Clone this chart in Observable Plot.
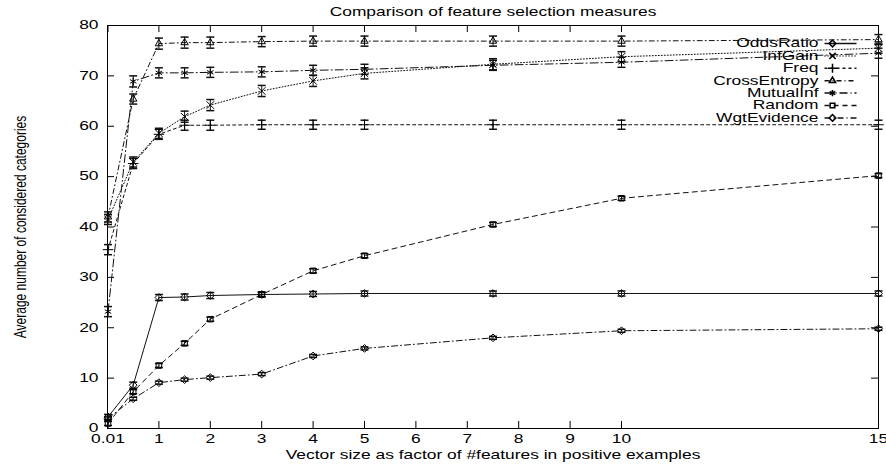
<!DOCTYPE html>
<html><head><meta charset="utf-8">
<script src="https://cdn.jsdelivr.net/npm/d3@7"></script>
<script src="https://cdn.jsdelivr.net/npm/@observablehq/plot@0.6"></script>
<style>body{margin:0;background:#fff}</style>
</head><body><div id="chart"></div>
<script>
const titleText = "Comparison of feature selection measures";
const xTitle = "Vector size as factor of #features in positive examples";
const yTitle = "Average number of considered categories";

const xValues = [0.01, 0.5, 1, 1.5, 2, 3, 4, 5, 7.5, 10, 15];
const xTickValues = [0.01, 1, 2, 3, 4, 5, 6, 7, 8, 9, 10, 15];
const xTickLabels = ["0.01", "1", "2", "3", "4", "5", "6", "7", "8", "9", "10", "15"];
const yTickValues = [0, 10, 20, 30, 40, 50, 60, 70, 80];

const seriesNames = ["OddsRatio", "InfGain", "Freq", "CrossEntropy", "MutualInf", "Random", "WgtEvidence"];

const oddsRatio    = [2.3, 8.6, 26.0, 26.1, 26.4, 26.6, 26.7, 26.8, 26.8, 26.8, 26.8];
const infGain      = [41.5, 52.9, 58.6, 61.9, 64.2, 67.0, 69.0, 70.5, 72.3, 73.8, 75.5];
const freq         = [35.5, 52.6, 58.4, 60.2, 60.2, 60.3, 60.3, 60.3, 60.3, 60.3, 60.3];
const crossEntropy = [42.0, 65.4, 76.4, 76.6, 76.6, 76.8, 76.9, 76.9, 76.9, 76.9, 77.2];
const mutualInf    = [23.2, 68.9, 70.6, 70.6, 70.7, 70.8, 71.1, 71.3, 72.1, 72.7, 74.5];
const random       = [1.0, 7.3, 12.5, 16.9, 21.7, 26.6, 31.3, 34.3, 40.5, 45.7, 50.2];
const wgtEvidence  = [2.0, 5.9, 9.1, 9.7, 10.1, 10.8, 14.4, 15.9, 18.0, 19.4, 19.8];

const oddsRatioErr    = [0.5, 0.6, 0.6, 0.6, 0.6, 0.5, 0.5, 0.5, 0.5, 0.5, 0.5];
const infGainErr      = [1.0, 1.0, 1.0, 1.1, 1.1, 1.1, 1.1, 1.1, 1.1, 1.0, 1.0];
const freqErr         = [1.0, 1.0, 1.0, 1.0, 1.0, 0.9, 0.9, 0.9, 0.9, 0.9, 0.9];
const crossEntropyErr = [1.0, 1.0, 1.1, 1.1, 1.1, 1.0, 1.0, 1.0, 1.0, 1.0, 1.0];
const mutualInfErr    = [1.0, 1.1, 1.0, 1.0, 1.0, 1.0, 1.0, 1.0, 1.0, 1.0, 1.0];
const randomErr       = [0.4, 0.4, 0.4, 0.4, 0.4, 0.4, 0.4, 0.4, 0.4, 0.4, 0.4];
const wgtEvidenceErr  = [0.3, 0.3, 0.3, 0.3, 0.3, 0.3, 0.3, 0.3, 0.3, 0.3, 0.3];

const seriesValues = [oddsRatio, infGain, freq, crossEntropy, mutualInf, random, wgtEvidence];
const seriesErrors = [oddsRatioErr, infGainErr, freqErr, crossEntropyErr, mutualInfErr, randomErr, wgtEvidenceErr];
const seriesDash = [null, "1,2", "3,3", "5,3,1,3", "8,3,1,3", "5,4", "6,3,1,3"];
const seriesSymbol = ["diamond2", "times", "plus", "triangle2", "asterisk", "square2", "diamond2"];

const rows = seriesNames.flatMap((name, si) => xValues.map((x, i) => ({
  series: name, x, y: seriesValues[si][i],
  lo: seriesValues[si][i] - seriesErrors[si][i],
  hi: seriesValues[si][i] + seriesErrors[si][i]
})));

const W = 886, H = 465, mL = 107, mR = 8, mT = 25, mB = 37;
const innerW = W - mL - mR, innerH = H - mT - mB;
const tickLen = 7;
const SX = 1.45; // horizontal stretch of the reference's lettering

const capSymbol = {draw(ctx) { ctx.moveTo(-4, 0); ctx.lineTo(4, 0); }};
const sampleSymbol = {draw(ctx) { ctx.moveTo(-8, 0); ctx.lineTo(24, 0); }};

const marks = [
  Plot.frame({stroke: "black", strokeWidth: 1}),
  Plot.tickX(xTickValues, {x: d => d, insetTop: innerH - tickLen, stroke: "black"}),
  Plot.tickX(xTickValues, {x: d => d, insetBottom: innerH - tickLen, stroke: "black"}),
  Plot.tickY(yTickValues, {y: d => d, insetRight: innerW - tickLen, stroke: "black"}),
  Plot.tickY(yTickValues, {y: d => d, insetLeft: innerW - tickLen, stroke: "black"}),
  Plot.axisX({ticks: xTickValues, tickSize: 0, tickPadding: 6, label: null,
    tickFormat: d => xTickLabels[xTickValues.indexOf(d)]}),
  Plot.axisY({ticks: yTickValues, tickSize: 0, tickPadding: 9, label: null}),
  Plot.text([titleText], {frameAnchor: "top", dy: -13, lineAnchor: "middle"}),
  Plot.text([xTitle], {frameAnchor: "bottom", dy: 27, lineAnchor: "middle"}),
  Plot.text([yTitle], {frameAnchor: "left", dx: -87, rotate: -90, textAnchor: "middle", lineAnchor: "middle"}),
];

seriesNames.forEach((name, si) => {
  const f = d => d.series === name;
  marks.push(Plot.line(rows, {filter: f, x: "x", y: "y", stroke: "#111", strokeWidth: 1, strokeDasharray: seriesDash[si]}));
});
marks.push(Plot.ruleX(rows, {x: "x", y1: "lo", y2: "hi", stroke: "#111"}));
marks.push(Plot.dot(rows, {x: "x", y: "lo", symbol: capSymbol, stroke: "#111"}));
marks.push(Plot.dot(rows, {x: "x", y: "hi", symbol: capSymbol, stroke: "#111"}));
seriesNames.forEach((name, si) => {
  marks.push(Plot.dot(rows, {filter: d => d.series === name, x: "x", y: "y", symbol: seriesSymbol[si], r: 3.5, stroke: "black", fill: "none", strokeWidth: 1}));
  const dy = 18 + si * 12.4;
  marks.push(Plot.text([name], {frameAnchor: "top-right", dx: -60, dy, textAnchor: "end", lineAnchor: "middle"}));
  marks.push(Plot.dot([name], {frameAnchor: "top-right", dx: -46, dy, symbol: sampleSymbol, stroke: "#111", strokeDasharray: seriesDash[si]}));
  marks.push(Plot.dot([name], {frameAnchor: "top-right", dx: -46, dy, symbol: seriesSymbol[si], r: 3, stroke: "black", fill: "none"}));
});

const chart = Plot.plot({
  width: W, height: H,
  marginLeft: mL, marginRight: mR, marginTop: mT, marginBottom: mB,
  style: {fontFamily: "'Liberation Sans', Arial, Helvetica, sans-serif", fontSize: "12px", color: "black", background: "white"},
  x: {domain: [0, 15]},
  y: {domain: [0, 80]},
  marks
});

// the reference's lettering is stretched horizontally; reproduce that
chart.querySelectorAll("text").forEach(t => {
  const tr = t.getAttribute("transform");
  if (tr) {
    t.setAttribute("transform", tr + (tr.includes("rotate") ? ` scale(1,${SX})` : ` scale(${SX},1)`));
  } else {
    const x = +t.getAttribute("x") || 0, y = +t.getAttribute("y") || 0;
    t.setAttribute("transform", `translate(${x},${y}) scale(${SX},1) translate(${-x},${-y})`);
  }
});
document.getElementById("chart").append(chart);
</script>
</body></html>
